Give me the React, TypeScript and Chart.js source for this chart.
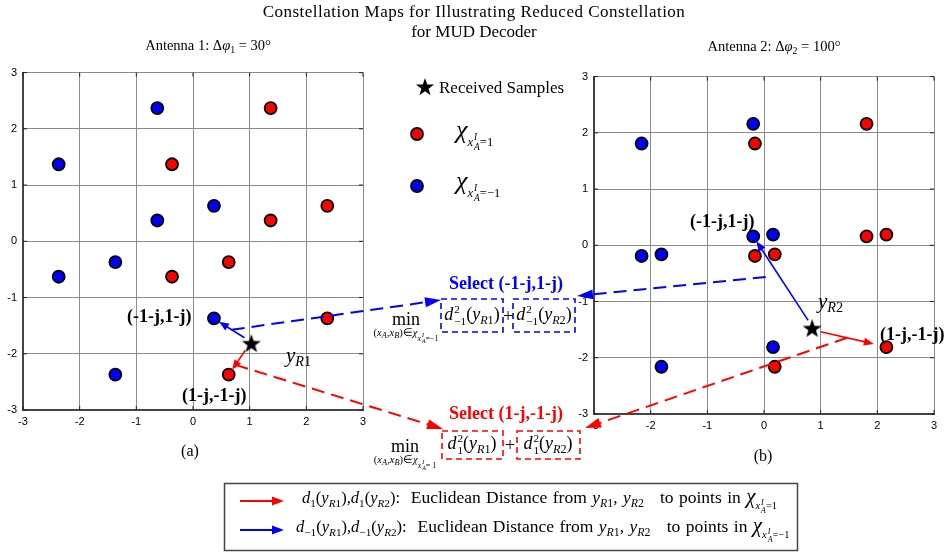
import React, { useEffect, useRef } from 'react';
import { Chart, registerables } from 'chart.js';
Chart.register(...registerables);

// ---------- data ----------
const AXIS_TICKS = [-3, -2, -1, 0, 1, 2, 3];

// Antenna 1 (Δφ1 = 30°)
const ant1RedX = [1.37, -0.37, 0.63, 2.37, 1.37, -0.37, 0.63, 2.37];
const ant1RedY = [2.37, 1.37, -0.37, 0.63, 0.37, -0.63, -2.37, -1.37];
const ant1BlueX = [-0.63, -2.37, -1.37, 0.37, -0.63, -2.37, -1.37, 0.37];
const ant1BlueY = [2.37, 1.37, -0.37, 0.63, 0.37, -0.63, -2.37, -1.37];
const ant1SampleX = [1.03];
const ant1SampleY = [-1.82];

// Antenna 2 (Δφ2 = 100°)
const ant2RedX = [-0.16, 0.19, 2.16, 1.81, -0.16, 0.19, 2.16, 1.81];
const ant2RedY = [1.81, -0.16, 0.19, 2.16, -0.19, -2.16, -1.81, 0.16];
const ant2BlueX = [-2.16, -1.81, 0.16, -0.19, -2.16, -1.81, 0.16, -0.19];
const ant2BlueY = [1.81, -0.16, 0.19, 2.16, -0.19, -2.16, -1.81, 0.16];
const ant2SampleX = [0.85];
const ant2SampleY = [-1.48];

// index of the nearest point chosen in each set
const ant1BlueSel = 7;
const ant1RedSel = 6;
const ant2BlueSel = 7;
const ant2RedSel = 6;

// ---------- layout ----------
const W = 947;
const H = 554;
const LEFT_POS = { left: 0, top: 60, w: 375, h: 375, yAxisW: 23 };
const RIGHT_POS = { left: 570, top: 64, w: 377, h: 375, yAxisW: 24 };
const SERIF = '"Liberation Serif", "Times New Roman", Times, serif';
const SANS = '"Liberation Sans", Arial, Helvetica, sans-serif';
const RED = '#ff0000';
const BLUE = '#0000ff';

const zip = (xs: number[], ys: number[]) => xs.map((x, i) => ({ x, y: ys[i] }));

function starPath(ctx: CanvasRenderingContext2D, cx: number, cy: number, R: number, r: number) {
  ctx.beginPath();
  for (let i = 0; i < 10; i++) {
    const rad = i % 2 === 0 ? R : r;
    const ang = -Math.PI / 2 + (i * Math.PI) / 5;
    const x = cx + rad * Math.cos(ang);
    const y = cy + rad * Math.sin(ang);
    if (i === 0) ctx.moveTo(x, y);
    else ctx.lineTo(x, y);
  }
  ctx.closePath();
}

function makeStarCanvas() {
  const c = document.createElement('canvas');
  c.width = 22;
  c.height = 22;
  const ctx = c.getContext('2d')!;
  starPath(ctx, 11, 11.5, 10, 4);
  ctx.fillStyle = '#000';
  ctx.fill();
  return c;
}

const inwardTicks = {
  id: 'inwardTicks',
  afterDraw(chart: any) {
    const { ctx, chartArea: a, scales } = chart;
    ctx.save();
    ctx.strokeStyle = '#222';
    ctx.lineWidth = 1;
    AXIS_TICKS.forEach((v) => {
      const x = scales.x.getPixelForValue(v);
      const y = scales.y.getPixelForValue(v);
      ctx.beginPath();
      ctx.moveTo(x, a.bottom);
      ctx.lineTo(x, a.bottom - 4);
      ctx.moveTo(x, a.top);
      ctx.lineTo(x, a.top + 4);
      ctx.moveTo(a.left, y);
      ctx.lineTo(a.left + 4, y);
      ctx.moveTo(a.right, y);
      ctx.lineTo(a.right - 4, y);
      ctx.stroke();
    });
    ctx.restore();
  },
};

function makeChart(canvas: HTMLCanvasElement, pos: any, red: any[], blue: any[], sample: any[], star: HTMLCanvasElement) {
  const axisCommon = (isX: boolean) => ({
    type: 'linear',
    min: -3,
    max: 3,
    afterBuildTicks: (s: any) => {
      s.ticks = AXIS_TICKS.map((v) => ({ value: v }));
    },
    afterFit: (s: any) => {
      if (isX) s.height = 20;
      else s.width = pos.yAxisW;
    },
    ticks: {
      autoSkip: false,
      color: '#000',
      font: { family: SANS, size: 11 },
      padding: isX ? 5 : 6,
    },
    grid: { color: '#8c8c8c', lineWidth: 1, drawTicks: false },
    border: { display: true, color: '#444', width: 2 },
  });
  return new Chart(canvas, {
    type: 'scatter',
    data: {
      datasets: [
        { data: red, backgroundColor: RED, borderColor: '#000', borderWidth: 1.8, pointRadius: 6, pointHoverRadius: 6 },
        { data: blue, backgroundColor: BLUE, borderColor: '#000', borderWidth: 1.8, pointRadius: 6, pointHoverRadius: 6 },
        { data: sample, pointStyle: star as any, pointRadius: 10, backgroundColor: '#000', borderColor: '#000' },
      ],
    },
    options: {
      animation: false,
      responsive: false,
      maintainAspectRatio: false,
      events: [],
      layout: { padding: { left: 0, top: 11, right: pos.w - pos.yAxisW - 340, bottom: 5 } },
      plugins: { legend: { display: false }, tooltip: { enabled: false }, title: { display: false } },
      scales: { x: axisCommon(true) as any, y: axisCommon(false) as any },
    },
    plugins: [inwardTicks],
  } as any);
}

function arrow(
  ctx: CanvasRenderingContext2D,
  x1: number, y1: number, x2: number, y2: number,
  color: string, lw: number, dash: number[], hl: number, hw: number
) {
  const dx = x2 - x1;
  const dy = y2 - y1;
  const L = Math.hypot(dx, dy);
  const ux = dx / L;
  const uy = dy / L;
  const bx = x2 - ux * hl;
  const by = y2 - uy * hl;
  ctx.save();
  ctx.strokeStyle = color;
  ctx.fillStyle = color;
  ctx.lineWidth = lw;
  ctx.setLineDash(dash);
  ctx.beginPath();
  ctx.moveTo(x1, y1);
  ctx.lineTo(bx + ux * 2, by + uy * 2);
  ctx.stroke();
  ctx.setLineDash([]);
  ctx.beginPath();
  ctx.moveTo(x2, y2);
  ctx.lineTo(bx - uy * hw / 2, by + ux * hw / 2);
  ctx.lineTo(bx + uy * hw / 2, by - ux * hw / 2);
  ctx.closePath();
  ctx.fill();
  ctx.restore();
}

function dashedRect(ctx: CanvasRenderingContext2D, x: number, y: number, w: number, h: number, color: string) {
  ctx.save();
  ctx.strokeStyle = color;
  ctx.lineWidth = 1.6;
  ctx.setLineDash([6, 4]);
  ctx.strokeRect(x, y, w, h);
  ctx.restore();
}

function drawOverlay(ctx: CanvasRenderingContext2D, c1: any, c2: any) {
  const P = (c: any, pos: any, x: number, y: number) => [
    pos.left + c.scales.x.getPixelForValue(x),
    pos.top + c.scales.y.getPixelForValue(y),
  ];
  // solid arrow from sample to chosen point (stops at the marker edge)
  const solid = (c: any, pos: any, sx: number, sy: number, tx: number, ty: number, color: string, endGap: number) => {
    const [ax, ay] = P(c, pos, sx, sy);
    const [bx, by] = P(c, pos, tx, ty);
    const L = Math.hypot(bx - ax, by - ay);
    const ux = (bx - ax) / L;
    const uy = (by - ay) / L;
    const s = [ax + ux * 9 - uy * 1, ay + uy * 9 + ux * 1];
    const e = [bx - ux * endGap, by - uy * endGap];
    arrow(ctx, s[0], s[1], e[0], e[1], color, 1.6, [], 10, 8);
    return [s, e];
  };
  const l1b = solid(c1, LEFT_POS, ant1SampleX[0], ant1SampleY[0], ant1BlueX[ant1BlueSel], ant1BlueY[ant1BlueSel], BLUE, 6);
  const l1r = solid(c1, LEFT_POS, ant1SampleX[0], ant1SampleY[0], ant1RedX[ant1RedSel], ant1RedY[ant1RedSel], RED, 6);
  const l2b = solid(c2, RIGHT_POS, ant2SampleX[0], ant2SampleY[0], ant2BlueX[ant2BlueSel], ant2BlueY[ant2BlueSel], BLUE, 6);
  const l2r = solid(c2, RIGHT_POS, ant2SampleX[0], ant2SampleY[0], ant2RedX[ant2RedSel], ant2RedY[ant2RedSel], RED, 13);

  const along = (seg: number[][], t: number, ox = 0, oy = 0) => [
    seg[0][0] + (seg[1][0] - seg[0][0]) * t + ox,
    seg[0][1] + (seg[1][1] - seg[0][1]) * t + oy,
  ];
  const DASH = [13, 7];
  // blue dashed into the "Select (-1-j,1-j)" boxes
  let s = along(l1b, 0.5);
  arrow(ctx, s[0], s[1], 441, 300, BLUE, 2, DASH, 16, 10);
  s = along(l2b, 0.55, -14, 0);
  arrow(ctx, s[0], s[1], 577, 296, BLUE, 2, DASH, 16, 10);
  // red dashed into the "Select (1-j,-1-j)" boxes
  s = along(l1r, 0.75);
  arrow(ctx, s[0], s[1], 443, 429, RED, 2, DASH, 16, 10);
  s = along(l2r, 0.5);
  arrow(ctx, s[0], s[1], 585, 428, RED, 2, DASH, 16, 10);

  // boxes
  dashedRect(ctx, 441, 299, 62, 33, BLUE);
  dashedRect(ctx, 513, 299, 62, 33, BLUE);
  dashedRect(ctx, 442, 431, 61, 28, RED);
  dashedRect(ctx, 517, 431, 63, 28, RED);

  // top-middle legend marks
  ctx.save();
  starPath(ctx, 425, 87.5, 9.5, 3.8);
  ctx.fillStyle = '#000';
  ctx.fill();
  const dot = (x: number, y: number, col: string) => {
    ctx.beginPath();
    ctx.arc(x, y, 6, 0, Math.PI * 2);
    ctx.fillStyle = col;
    ctx.fill();
    ctx.lineWidth = 1.8;
    ctx.strokeStyle = '#000';
    ctx.stroke();
  };
  dot(417, 134, RED);
  dot(417, 186, BLUE);
  ctx.restore();

  // bottom legend box
  ctx.save();
  ctx.strokeStyle = '#444';
  ctx.lineWidth = 1.5;
  ctx.strokeRect(224.5, 483.5, 573, 67);
  ctx.restore();
  arrow(ctx, 240, 501, 284, 501, RED, 2, [], 12, 9);
  arrow(ctx, 240, 530, 284, 530, BLUE, 2, [], 12, 9);
}

// ---------- text helpers ----------
const T = ({ x, y, a = 'l', s = {}, children }: any) => (
  <div
    style={{
      position: 'absolute',
      left: x,
      top: y,
      transform: a === 'c' ? 'translate(-50%,-50%)' : 'translate(0,-50%)',
      whiteSpace: 'nowrap',
      lineHeight: 1,
      fontFamily: SERIF,
      color: '#000',
      ...s,
    }}
  >
    {children}
  </div>
);
const Sb = ({ children, f = 0.68 }: any) => (
  <span style={{ fontSize: `${f}em`, verticalAlign: '-0.3em', lineHeight: 0 }}>{children}</span>
);
const SS = ({ sup, sub, f = 0.62 }: any) => (
  <span
    style={{
      display: 'inline-flex',
      flexDirection: 'column',
      fontSize: `${f}em`,
      lineHeight: 1.05,
      verticalAlign: '0.6em',
      marginLeft: 1,
    }}
  >
    <span>{sup}</span>
    <span>{sub}</span>
  </span>
);
const Chi = ({ v, size = 1, sub = 0.55 }: any) => (
  <span>
    <i style={{ fontSize: `${size}em` }}>χ</i>
    <span style={{ fontSize: `${sub}em`, verticalAlign: '-0.6em', lineHeight: 0 }}>
      <i>x</i>
      <SS sup={<i>I</i>} sub={<i>A</i>} f={0.75} />={v}
    </span>
  </span>
);
const Y = ({ n }: any) => (
  <span>
    <i>y</i>
    <Sb>
      <i>R</i>
      {n}
    </Sb>
  </span>
);
const D2 = ({ k, n }: any) => (
  <span>
    <i>d</i>
    <SS sup="2" sub={k} />(<Y n={n} />)
  </span>
);
const MinSub = ({ v }: any) => (
  <span>
    (<i>x</i>
    <Sb f={0.8}>
      <i>A</i>
    </Sb>
    ,<i>x</i>
    <Sb f={0.8}>
      <i>B</i>
    </Sb>
    )∈<Chi v={v} sub={0.75} />
  </span>
);
const LegendLine = ({ k }: any) => (
  <span>
    <span style={{ fontSize: 16.5 }}>
      <i>d</i>
      <Sb>{k}</Sb>(<Y n="1" />),<i>d</i>
      <Sb>{k}</Sb>(<Y n="2" />):
    </span>
    <span style={{ fontSize: 17.5, wordSpacing: 1 }}>
      &nbsp;&nbsp;Euclidean Distance from <Y n="1" />, <Y n="2" />&nbsp;&nbsp; to points in <Chi v={k} size={1.2} sub={0.6} />
    </span>
  </span>
);

export default function App() {
  const ref1 = useRef<HTMLCanvasElement>(null);
  const ref2 = useRef<HTMLCanvasElement>(null);
  const refO = useRef<HTMLCanvasElement>(null);

  useEffect(() => {
    const star = makeStarCanvas();
    const c1 = makeChart(ref1.current!, LEFT_POS, zip(ant1RedX, ant1RedY), zip(ant1BlueX, ant1BlueY), zip(ant1SampleX, ant1SampleY), star);
    const c2 = makeChart(ref2.current!, RIGHT_POS, zip(ant2RedX, ant2RedY), zip(ant2BlueX, ant2BlueY), zip(ant2SampleX, ant2SampleY), star);
    const o = refO.current!;
    const ctx = o.getContext('2d')!;
    ctx.clearRect(0, 0, W, H);
    drawOverlay(ctx, c1, c2);
    return () => {
      c1.destroy();
      c2.destroy();
    };
  }, []);

  const cv = (pos: any) => ({
    position: 'absolute' as const,
    left: pos.left,
    top: pos.top,
    width: pos.w,
    height: pos.h,
    display: 'block',
  });

  return (
    <div style={{ position: 'fixed', left: 0, top: 0, width: W, height: H, background: '#fff', overflow: 'hidden' }}>
      <canvas ref={ref1} width={LEFT_POS.w} height={LEFT_POS.h} style={cv(LEFT_POS)} />
      <canvas ref={ref2} width={RIGHT_POS.w} height={RIGHT_POS.h} style={cv(RIGHT_POS)} />
      <canvas ref={refO} width={W} height={H} style={{ position: 'absolute', left: 0, top: 0, width: W, height: H, pointerEvents: 'none' }} />

      {/* titles */}
      <T x={474} y={11} a="c" s={{ fontSize: 17, letterSpacing: 0.5 }}>Constellation Maps for Illustrating Reduced Constellation</T>
      <T x={474} y={31} a="c" s={{ fontSize: 17 }}>for MUD Decoder</T>
      <T x={208} y={45} a="c" s={{ fontSize: 14.5 }}>
        Antenna 1: Δ<i>φ</i>
        <Sb>1</Sb> = 30°
      </T>
      <T x={774} y={46} a="c" s={{ fontSize: 14.5 }}>
        Antenna 2: Δ<i>φ</i>
        <Sb>2</Sb> = 100°
      </T>

      {/* legend */}
      <T x={439} y={87} s={{ fontSize: 17 }}>Received Samples</T>
      <T x={456} y={135} s={{ fontSize: 18 }}>
        <Chi v="1" size={1.45} sub={0.7} />
      </T>
      <T x={456} y={186} s={{ fontSize: 18 }}>
        <Chi v="−1" size={1.45} sub={0.7} />
      </T>

      {/* point labels */}
      <T x={127} y={316} s={{ fontSize: 18, fontWeight: 'bold' }}>(-1-j,1-j)</T>
      <T x={182} y={395} s={{ fontSize: 18, fontWeight: 'bold' }}>(1-j,-1-j)</T>
      <T x={286} y={355} s={{ fontSize: 21 }}>
        <Y n="1" />
      </T>
      <T x={690} y={221} s={{ fontSize: 18, fontWeight: 'bold' }}>(-1-j,1-j)</T>
      <T x={818} y={301} s={{ fontSize: 21 }}>
        <Y n="2" />
      </T>
      <T x={880} y={334} s={{ fontSize: 18, fontWeight: 'bold' }}>(1-j,-1-j)</T>

      {/* selection formulas */}
      <T x={506} y={283} a="c" s={{ fontSize: 18, fontWeight: 'bold', color: BLUE }}>Select (-1-j,1-j)</T>
      <T x={406} y={319} a="c" s={{ fontSize: 18 }}>min</T>
      <T x={406} y={336} a="c" s={{ fontSize: 10.5 }}>
        <MinSub v="−1" />
      </T>
      <T x={472} y={316} a="c" s={{ fontSize: 18 }}>
        <D2 k="−1" n="1" />
      </T>
      <T x={508} y={316} a="c" s={{ fontSize: 18 }}>+</T>
      <T x={544} y={316} a="c" s={{ fontSize: 18 }}>
        <D2 k="−1" n="2" />
      </T>

      <T x={506} y={413} a="c" s={{ fontSize: 18, fontWeight: 'bold', color: RED }}>Select (1-j,-1-j)</T>
      <T x={405} y={446} a="c" s={{ fontSize: 18 }}>min</T>
      <T x={405} y={463} a="c" s={{ fontSize: 10.5 }}>
        <MinSub v=" 1" />
      </T>
      <T x={472} y={445} a="c" s={{ fontSize: 18 }}>
        <D2 k="1" n="1" />
      </T>
      <T x={510} y={445} a="c" s={{ fontSize: 18 }}>+</T>
      <T x={548} y={445} a="c" s={{ fontSize: 18 }}>
        <D2 k="1" n="2" />
      </T>

      <T x={190} y={451} a="c" s={{ fontSize: 16 }}>(a)</T>
      <T x={763} y={456} a="c" s={{ fontSize: 16 }}>(b)</T>

      {/* bottom legend */}
      <T x={302} y={501} s={{}}>
        <LegendLine k="1" />
      </T>
      <T x={296} y={530} s={{}}>
        <LegendLine k="−1" />
      </T>
    </div>
  );
}
